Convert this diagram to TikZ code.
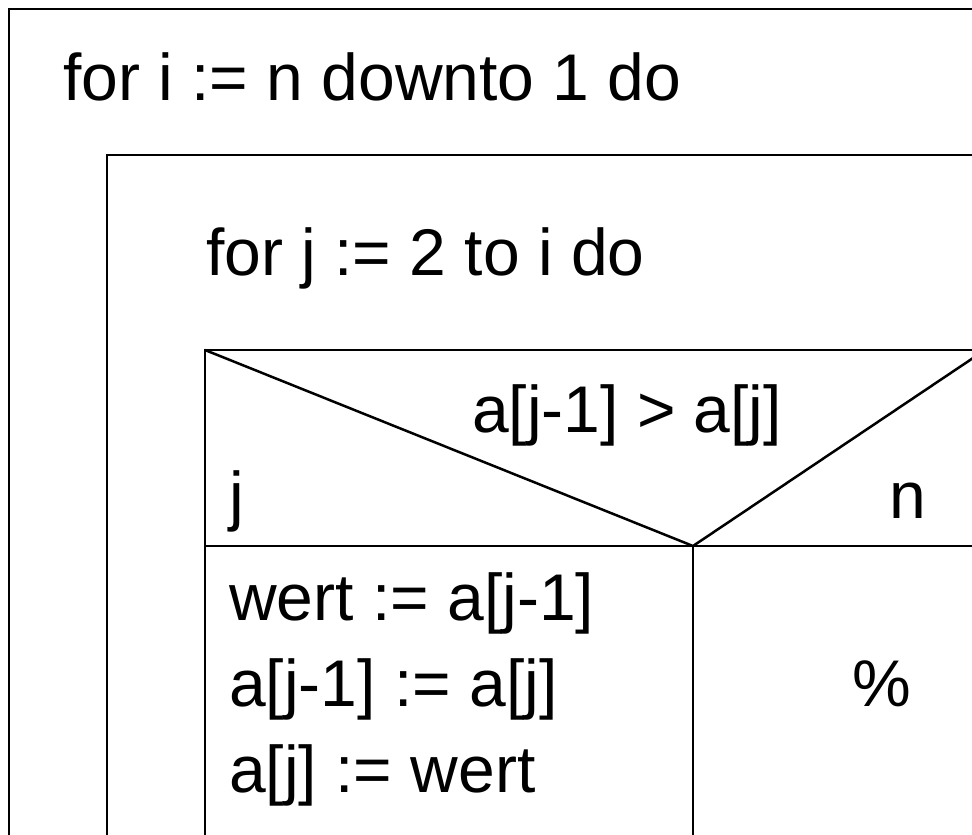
\documentclass[tikz,border=0pt]{standalone}
\usepackage{fontspec}
\setmainfont{Liberation Sans}
\usetikzlibrary{positioning}

\begin{document}
\begin{tikzpicture}[x=1pt, y=-1pt, line width=2.5pt,
  txt/.style={inner sep=0pt, anchor=base west, font=\fontsize{66}{79}\selectfont}]
  \useasboundingbox (0,0) rectangle (972,835);
  \clip (0,0) rectangle (972,835);
  % outer loop
  \draw (9,9) rectangle (1000,900);
  \node[txt] (outer) at (62,100) {for i := n downto 1 do};
  % inner loop
  \draw (107,155) rectangle (1000,900);
  \node[txt] (inner) at (205,275) {for j := 2 to i do};
  % decision head
  \coordinate (dtl) at (205,350);
  \coordinate (dtr) at (985,350);
  \coordinate (split) at (693,546);
  \coordinate (hl) at (205,546);
  \coordinate (hr) at (1000,546);
  \coordinate (mid) at (693,900);
  \draw (dtl) rectangle (985,900);
  \draw (dtl) -- (split) -- (dtr);
  \draw (hl) -- (hr);
  \draw (split) -- (mid);
  \node[txt, anchor=base] (cond) at (627,432) {a[j-1] > a[j]};
  \node[txt] (yes) at (228,518) {j};
  \node[txt] (no) at (888,518) {n};
  % then branch
  \node[txt] (s1) at (228,620) {wert := a[j-1]};
  \node[txt] (s2) at (228,706) {a[j-1] := a[j]};
  \node[txt] (s3) at (228,792) {a[j] := wert};
  % else branch
  \node[txt, anchor=base] (empty) at (882,706) {\%};
\end{tikzpicture}
\end{document}
